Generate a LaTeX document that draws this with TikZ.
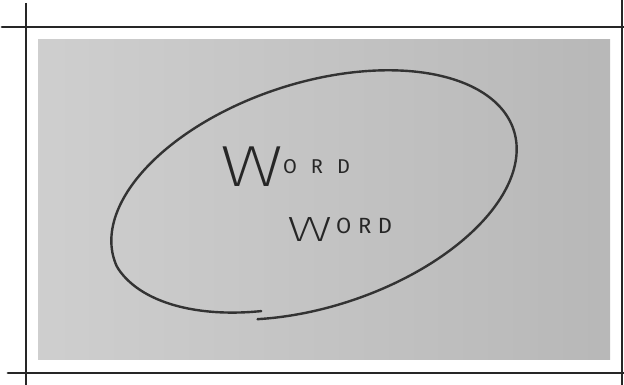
\documentclass[tikz,border=0pt]{standalone}
\usepackage{fontspec}
\newfontfamily\handfont{Fira Sans}
\newfontfamily\bigfont{Fira Sans ExtraLight}
\usepackage{tikz}
\usetikzlibrary{positioning}

\begin{document}
\begin{tikzpicture}[
    x=1pt,y=1pt,
    rule/.style={line width=2.8pt,black!85,line cap=round},
    edge/.style={line width=1.2pt,black!85},
    paper/.style={left color=black!19,right color=black!28,draw=none},
    pen/.style={line width=2.4pt,black!80,line cap=round,line join=round},
    word/.style={inner sep=0pt,anchor=base west,text=black!85,font=\handfont}
  ]
    \useasboundingbox (0,0) rectangle (624,385);
    % photo of the sheet
    \shade[paper] (38,25) rectangle (610,345);
    % frame
    \draw[rule] (2,358) -- (624,358);
    \draw[rule] (8,12) -- (624,12);
    \draw[edge] (26,382) -- (26,0);
    \draw[edge] (622,385) -- (622,0);
    % the loop, drawn as one open stroke
    \draw[pen,rotate around={18:(314,190)},shift={(314,190)}]
      plot[domain=-116:244,samples=120,smooth]
      ({210*cos(\x)*(1-0.065*max(0,(\x-184)/60))},{112*sin(\x)*(1-0.065*max(0,(\x-184)/60))});
    % words
    \node[word] (word1) at (220,198)
      {{\bigfont\fontsize{58}{58}\selectfont\scalebox{1.35}[1]{W}}\raisebox{13pt}{\fontsize{20}{20}\selectfont\addfontfeature{LetterSpace=70}ORD}};
    \node[word] (word2) at (287,143)
      {{\bigfont\fontsize{35}{35}\selectfont\scalebox{1.6}[1]{W}}\hspace{4pt}\raisebox{8pt}{\fontsize{22}{22}\selectfont\addfontfeature{LetterSpace=30}ORD}};
  \end{tikzpicture}
\end{document}
